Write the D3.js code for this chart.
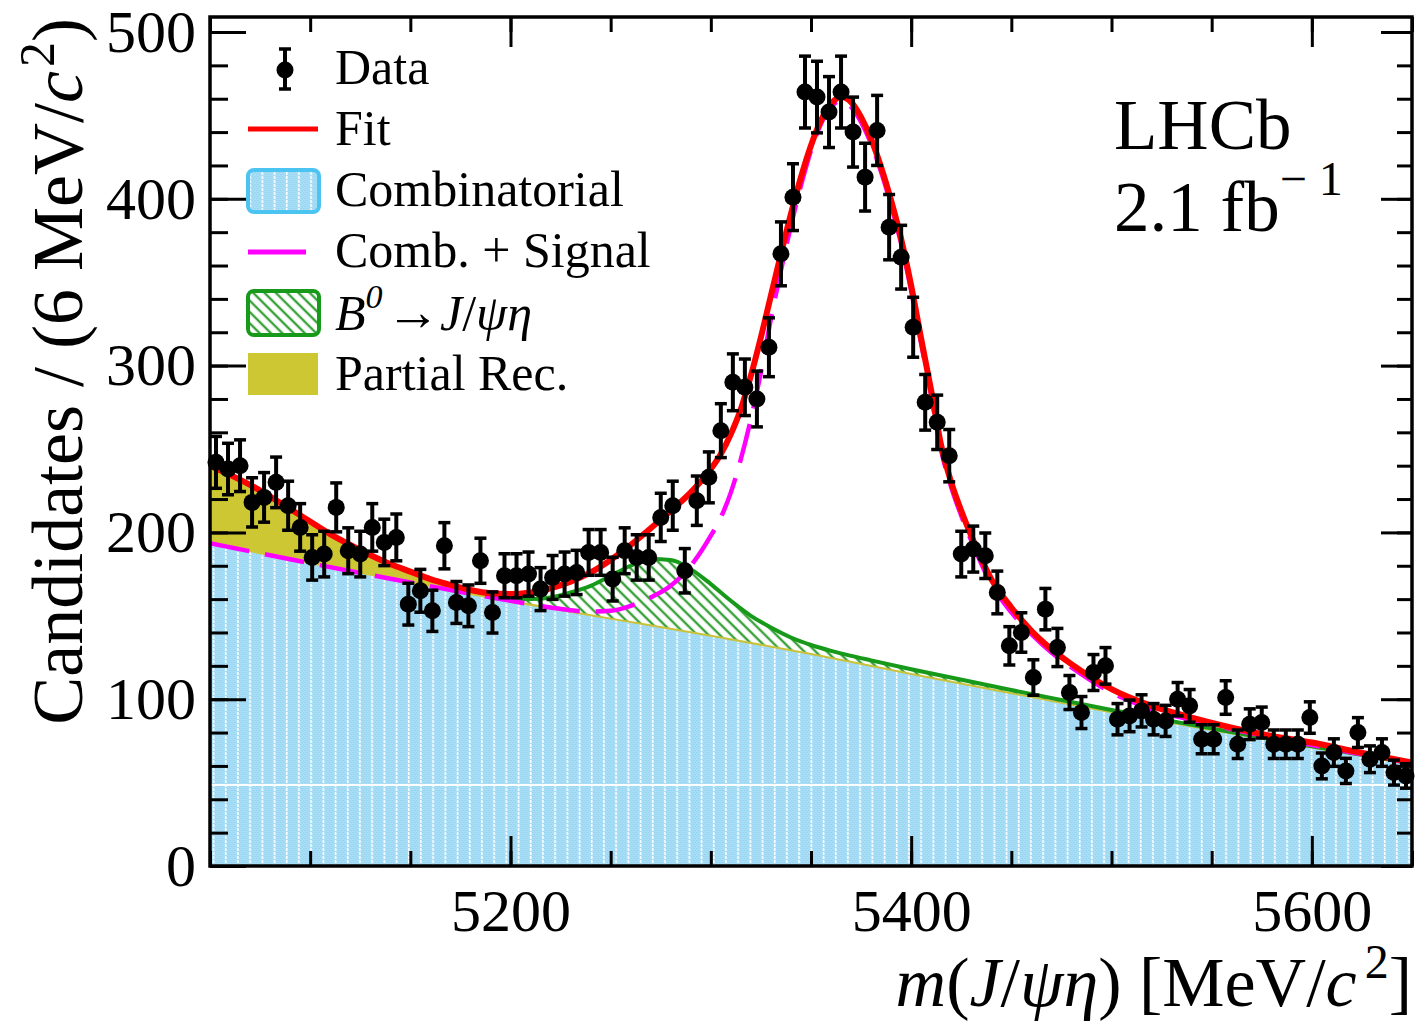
<!DOCTYPE html>
<html>
<head>
<meta charset="utf-8">
<script src="https://cdn.jsdelivr.net/npm/d3@7"></script>
<style>
body{margin:0;background:#fff;}
text{font-family:"Liberation Serif","Times New Roman",serif;}
</style>
</head>
<body>
<div id="plot"></div>
<script>
// counts per 6 MeV bin, 5050 -> 5650
var counts = [242,238,240,218,221,230,216,203,185,187,
              215,189,187,203,194,197,157,165,153,192,
              158,156,183,152,174,174,175,166,173,175,
              176,188,188,172,189,185,185,209,216,177,
              219,233,261,290,287,280,311,367,401,464,
              461,452,464,440,413,441,383,365,323,278,
              266,246,187,190,186,164,132,140,113,154,
              131,104,92,116,120,88,90,93,88,87,
              100,96,76,76,101,73,85,86,73,73,
              73,89,60,68,57,80,64,68,56,54];
var binCentres = d3.range(counts.length).map(function(i){ return 5053 + 6*i; });

// combinatorial (cyan)
var combMass = [5050,5100,5150,5200,5250,5300,5350,5400,5450,5500,5550,5600,5650];
var combVal  = [193,181,169.5,158,148,138,127,115,103.5,92,81.5,71,61];

// comb + partially reconstructed (olive top)
var partMass = [5050,5060,5070,5080,5090,5100,5110,5120,5130,5140,5150,5160,5170,5180,5190,5200,5220,5250,5300,5350,5400,5450,5500,5550,5600,5650];
var partVal  = [240,234,228,220.5,213,206,198.5,192,186,180.5,176,171.5,168,164.5,161.5,159,154.5,148.3,138.1,127.1,115.1,103.6,92.1,81.6,71.1,61.1];

// comb + B0 -> J/psi eta (green top)
var bzMass = [5150,5180,5190,5200,5210,5220,5230,5240,5250,5260,5270,5280,5290,5300,5310,5320,5330,5340,5350,5360,5370,5380,5400,5450,5500,5550,5600,5650];
var bzVal  = [169.5,163,161,160,160,161,164,168,174,180,184,183.5,178,169,159,150,143,137,132.5,129,126,123.3,118,105.5,93.5,82.5,71.7,61.5];

// comb + signal (magenta dashed)
var sigMass = [5050,5100,5150,5200,5220,5240,5250,5260,5270,5280,5290,5300,5305,5310,5315,5320,5325,5330,5335,5340,5345,5350,5355,5360,5365,5370,5375,5380,5385,5390,5395,5400,5405,5410,5415,5420,5425,5430,5440,5450,5460,5470,5480,5490,5500,5520,5540,5560,5580,5600,5620,5650];
var sigVal  = [193.5,181.5,170,159,155,152.5,153,156,161,168,180,198,209,224,244,268,296,328,357,384,408,429,445,455,459,455,446,433,416,396,373,345,313,282,249,227,210,195,169,152,139,128,119,111,104,94,87.5,82,77,72.5,68,61.5];

// total fit (red)
var fitMass = [5050,5060,5070,5080,5090,5100,5110,5120,5130,5140,5150,5160,5170,5180,5190,5200,5210,5220,5230,5240,5250,5260,5270,5280,5290,5300,5305,5310,5315,5320,5325,5330,5335,5340,5345,5350,5355,5360,5365,5370,5375,5380,5385,5390,5395,5400,5405,5410,5415,5420,5425,5430,5440,5450,5460,5470,5480,5490,5500,5520,5540,5560,5580,5600,5620,5650];
var fitVal  = [240,234.5,228.5,221.5,214,206.5,199,192.5,186.5,181,176.5,172,168.5,165.5,163.5,163,164,166.5,170.5,176,183.5,192.5,202.5,213,224,238,247,259,274,294,317,342,367,391,413,432,447,457,461,458,449,436,419,399,376,348,316,285,252,230,213,198,172,155,141,130,121,113,106,96,89,83,78,74,69,62];

var xMajor = [5200,5400,5600];
var xMinor = d3.range(5050,5651,50);
var yMajor = [0,100,200,300,400,500];
var yMinor = d3.range(0,509,20);

var w = 1419;
var h = 1029;

var x = d3.scaleLinear().domain([5050,5650]).range([210,1412]);
var y = d3.scaleLinear().domain([0,509]).range([866,17]);

var svg = d3.select("div#plot")
    .append("svg")
    .attr("width", w)
    .attr("height", h)
    .style("background","#fff");

var defs = svg.append("defs");
defs.append("clipPath").attr("id","frame")
    .append("rect").attr("x",210).attr("y",17).attr("width",1202).attr("height",849);

// cyan fill with dotted texture and white stripes
var cp = defs.append("pattern").attr("id","combFill")
    .attr("patternUnits","userSpaceOnUse")
    .attr("x",5.4).attr("y",0).attr("width",12.2).attr("height",4);
cp.append("rect").attr("width",12.2).attr("height",4).attr("fill","#a9ddf5");
[[2,0],[5,0],[8,0],[3.5,2],[6.5,2],[9.5,2]].forEach(function(p){
    cp.append("rect").attr("x",p[0]).attr("y",p[1]).attr("width",1).attr("height",1).attr("fill","#84d0f0");
});
cp.append("rect").attr("x",0).attr("y",0).attr("width",1.5).attr("height",3).attr("fill","#ffffff");

// green hatch
var hp = defs.append("pattern").attr("id","hatch")
    .attr("patternUnits","userSpaceOnUse")
    .attr("width",8).attr("height",8)
    .attr("patternTransform","rotate(-45)");
hp.append("rect").attr("width",8).attr("height",8).attr("fill","#fff");
hp.append("line").attr("x1",4).attr("y1",0).attr("x2",4).attr("y2",8)
    .attr("stroke","#3aa23a").attr("stroke-width",2.4);

function pairs(m, v){ return d3.zip(m, v); }

var area = d3.area()
    .x(function(d){ return x(d[0]); })
    .y0(y(0))
    .y1(function(d){ return y(d[1]); })
    .curve(d3.curveMonotoneX);

var line = d3.line()
    .x(function(d){ return x(d[0]); })
    .y(function(d){ return y(d[1]); })
    .curve(d3.curveMonotoneX);

var plot = svg.append("g").attr("clip-path","url(#frame)");

plot.append("path").attr("d", area(pairs(bzMass,bzVal))).attr("fill","url(#hatch)");
plot.append("path").attr("d", area(pairs(partMass,partVal))).attr("fill","#cdc733");
plot.append("path").attr("d", area(pairs(combMass,combVal))).attr("fill","url(#combFill)");

// faint white line inside the cyan fill
plot.append("line")
    .attr("x1",210).attr("x2",1412)
    .attr("y1",y(48.5)).attr("y2",y(48.5))
    .attr("stroke","#fff").attr("stroke-width",2);

plot.append("path").attr("d", line(pairs(partMass.slice(14),partVal.slice(14))))
    .attr("fill","none").attr("stroke","#c9c23a").attr("stroke-width",2);
plot.append("path").attr("d", line(pairs(bzMass.slice(2),bzVal.slice(2))))
    .attr("fill","none").attr("stroke","#17991a").attr("stroke-width",4);
plot.append("path").attr("d", line(pairs(sigMass,sigVal)))
    .attr("fill","none").attr("stroke","#ff00ff").attr("stroke-width",4.5)
    .attr("stroke-dasharray","40,16");
plot.append("path").attr("d", line(pairs(fitMass,fitVal)))
    .attr("fill","none").attr("stroke","#ff0000").attr("stroke-width",6);

// data points
var pts = svg.append("g");
var data = d3.zip(binCentres, counts);
pts.selectAll(".err").data(data).enter().append("line")
    .attr("x1", function(d){ return x(d[0]); })
    .attr("x2", function(d){ return x(d[0]); })
    .attr("y1", function(d){ return y(d[1] - Math.sqrt(d[1])); })
    .attr("y2", function(d){ return y(d[1] + Math.sqrt(d[1])); })
    .attr("stroke","#000").attr("stroke-width",4);
[-1,1].forEach(function(s){
    pts.selectAll(".cap" + s).data(data).enter().append("line")
        .attr("x1", function(d){ return x(d[0]) - 6; })
        .attr("x2", function(d){ return x(d[0]) + 6; })
        .attr("y1", function(d){ return y(d[1] + s*Math.sqrt(d[1])); })
        .attr("y2", function(d){ return y(d[1] + s*Math.sqrt(d[1])); })
        .attr("stroke","#000").attr("stroke-width",3.5);
});
pts.selectAll("circle").data(data).enter().append("circle")
    .attr("cx", function(d){ return x(d[0]); })
    .attr("cy", function(d){ return y(d[1]); })
    .attr("r", 8.5)
    .attr("fill","#000");

// axes, ticks on all four sides pointing inward
function ticks(axis, tr, size, vals, labels, pad){
    var g = svg.append("g").attr("transform", tr)
        .call(axis.tickValues(vals).tickSize(size).tickPadding(pad || 0)
            .tickFormat(labels ? d3.format("d") : ""));
    g.select(".domain").remove();
    g.selectAll("line").attr("stroke","#000").attr("stroke-width",3);
    g.selectAll("text").attr("font-family","Liberation Serif, Times New Roman, serif")
        .attr("font-size",60).attr("fill","#000");
    return g;
}
ticks(d3.axisBottom(x), "translate(0,866)", -15, xMinor, false);
ticks(d3.axisBottom(x), "translate(0,866)", -30, xMajor, true, 22);
ticks(d3.axisTop(x), "translate(0,17)", -15, xMinor, false);
ticks(d3.axisTop(x), "translate(0,17)", -30, xMajor, false);
ticks(d3.axisLeft(y), "translate(210,0)", -18, yMinor, false);
ticks(d3.axisLeft(y), "translate(210,0)", -36, yMajor, true, 14);
ticks(d3.axisRight(y), "translate(1412,0)", -15, yMinor, false);
ticks(d3.axisRight(y), "translate(1412,0)", -31, yMajor, false);

svg.append("rect").attr("x",210).attr("y",17).attr("width",1202).attr("height",849)
    .attr("fill","none").attr("stroke","#000").attr("stroke-width",3.5);

// axis titles
var xt = svg.append("text").attr("x",1412).attr("y",1006)
    .attr("text-anchor","end").attr("font-size",70).attr("fill","#000");
xt.append("tspan").attr("font-style","italic").text("m");
xt.append("tspan").text("(");
xt.append("tspan").attr("font-style","italic").text("J");
xt.append("tspan").text("/");
xt.append("tspan").attr("font-style","italic").text("ψη");
xt.append("tspan").text(") [MeV/");
xt.append("tspan").attr("font-style","italic").text("c");
xt.append("tspan").attr("font-size",48).attr("dy",-28).attr("dx",8).text("2");
xt.append("tspan").attr("dy",28).text("]");

var yt = svg.append("text").attr("transform","translate(82,18) rotate(-90)")
    .attr("text-anchor","end").attr("font-size",72).attr("fill","#000");
yt.append("tspan").text("Candidates / (6 MeV/");
yt.append("tspan").attr("font-style","italic").text("c");
yt.append("tspan").attr("font-size",50).attr("dy",-28).attr("dx",4).text("2");
yt.append("tspan").attr("dy",28).text(")");

// LHCb label
svg.append("text").attr("x",1114).attr("y",149).attr("font-size",71).text("LHCb");
var lum = svg.append("text").attr("x",1114).attr("y",231).attr("font-size",71);
lum.append("tspan").text("2.1 fb");
lum.append("tspan").attr("font-size",48).attr("dy",-36).text("− 1");

// legend
var leg = svg.append("g");
var legRows = [67,128,189,250,313,373];
var legNames = ["Data","Fit","Combinatorial","Comb. + Signal","","Partial Rec."];
leg.selectAll("text.n").data(legNames).enter().append("text")
    .attr("x",335)
    .attr("y", function(d,i){ return legRows[i] + 17; })
    .attr("font-size",50)
    .text(function(d){ return d; });
var bt = leg.append("text").attr("x",335).attr("y",legRows[4] + 17).attr("font-size",50);
bt.append("tspan").attr("font-style","italic").text("B");
bt.append("tspan").attr("font-style","italic").attr("font-size",34).attr("dy",-22).text("0");
leg.append("text").attr("x",386).attr("y",legRows[4] + 17).attr("font-size",54).text("→");
var bt2 = leg.append("text").attr("x",440).attr("y",legRows[4] + 17).attr("font-size",50);
bt2.append("tspan").attr("font-style","italic").text("J");
bt2.append("tspan").text("/");
bt2.append("tspan").attr("font-style","italic").text("ψη");

leg.append("line").attr("x1",285).attr("x2",285).attr("y1",49).attr("y2",89)
    .attr("stroke","#000").attr("stroke-width",4);
leg.append("line").attr("x1",279).attr("x2",291).attr("y1",49).attr("y2",49).attr("stroke","#000").attr("stroke-width",3.5);
leg.append("line").attr("x1",279).attr("x2",291).attr("y1",89).attr("y2",89).attr("stroke","#000").attr("stroke-width",3.5);
leg.append("circle").attr("cx",285).attr("cy",70).attr("r",8.5).attr("fill","#000");

leg.append("line").attr("x1",248).attr("x2",318).attr("y1",129).attr("y2",129)
    .attr("stroke","#ff0000").attr("stroke-width",5);
leg.append("rect").attr("x",248).attr("y",170).attr("width",71).attr("height",42).attr("rx",6)
    .attr("fill","url(#combFill)").attr("stroke","#4cc4f1").attr("stroke-width",4);
leg.append("line").attr("x1",248).attr("x2",306).attr("y1",252).attr("y2",252)
    .attr("stroke","#ff00ff").attr("stroke-width",5);
leg.append("rect").attr("x",248).attr("y",291).attr("width",71).attr("height",44).attr("rx",6)
    .attr("fill","url(#hatch)").attr("stroke","#17991a").attr("stroke-width",4);
leg.append("rect").attr("x",248).attr("y",353).attr("width",70).attr("height",42)
    .attr("fill","#cdc733");
</script>
</body>
</html>
